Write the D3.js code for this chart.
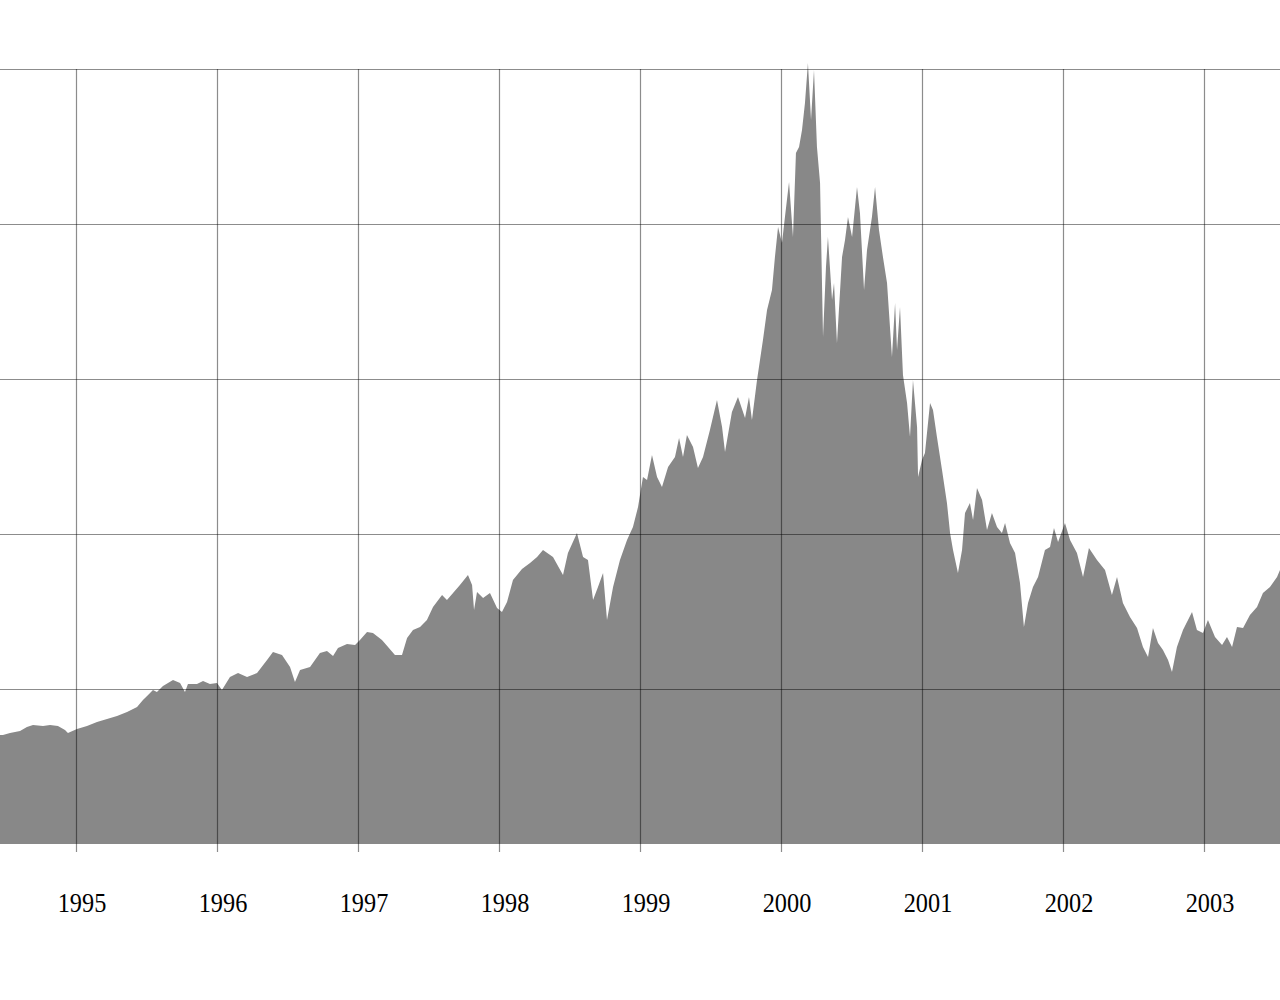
<!DOCTYPE html>
<html>
<head>
<meta charset="utf-8">
<script src="https://cdn.jsdelivr.net/npm/d3@7"></script>
<style>
  html, body { margin: 0; padding: 0; background: #ffffff; }
  svg { display: block; }
</style>
</head>
<body>
<svg id="chart" width="1280" height="1000"></svg>
<script>
const dates = [
  1994.461, 1994.482, 1994.532, 1994.603, 1994.652, 1994.695, 1994.766, 1994.816, 1994.872, 1994.922,
  1994.943, 1995.007, 1995.078, 1995.149, 1995.220, 1995.291, 1995.362, 1995.433, 1995.475, 1995.511,
  1995.546, 1995.574, 1995.617, 1995.688, 1995.738, 1995.773, 1995.794, 1995.858, 1995.901, 1995.950,
  1996.000, 1996.035, 1996.092, 1996.149, 1996.213, 1996.284, 1996.355, 1996.397, 1996.461, 1996.518,
  1996.553, 1996.589, 1996.660, 1996.695, 1996.730, 1996.780, 1996.823, 1996.858, 1996.922, 1996.979,
  1997.014, 1997.064, 1997.106, 1997.170, 1997.213, 1997.262, 1997.312, 1997.348, 1997.390, 1997.440,
  1997.489, 1997.532, 1997.596, 1997.631, 1997.674, 1997.723, 1997.780, 1997.809, 1997.823, 1997.844,
  1997.887, 1997.936, 1997.986, 1998.021, 1998.057, 1998.099, 1998.163, 1998.220, 1998.270, 1998.312,
  1998.383, 1998.454, 1998.489, 1998.553, 1998.596, 1998.631, 1998.667, 1998.702, 1998.738, 1998.766,
  1998.809, 1998.858, 1998.908, 1998.950, 1998.986, 1999.021, 1999.050, 1999.085, 1999.121, 1999.156,
  1999.199, 1999.248, 1999.277, 1999.305, 1999.333, 1999.376, 1999.411, 1999.447, 1999.496, 1999.546,
  1999.582, 1999.603, 1999.652, 1999.695, 1999.745, 1999.773, 1999.794, 1999.830, 1999.872, 1999.901,
  1999.936, 1999.957, 1999.979, 2000.007, 2000.028, 2000.057, 2000.085, 2000.106, 2000.128, 2000.149,
  2000.170, 2000.191, 2000.213, 2000.234, 2000.255, 2000.277, 2000.298, 2000.319, 2000.333, 2000.362,
  2000.376, 2000.397, 2000.433, 2000.454, 2000.475, 2000.504, 2000.539, 2000.560, 2000.589, 2000.610,
  2000.645, 2000.667, 2000.695, 2000.723, 2000.752, 2000.787, 2000.809, 2000.823, 2000.844, 2000.865,
  2000.894, 2000.915, 2000.936, 2000.965, 2000.972, 2001.000, 2001.021, 2001.057, 2001.078, 2001.106,
  2001.142, 2001.177, 2001.199, 2001.220, 2001.255, 2001.284, 2001.305, 2001.340, 2001.362, 2001.390,
  2001.426, 2001.461, 2001.496, 2001.532, 2001.567, 2001.589, 2001.624, 2001.660, 2001.695, 2001.723,
  2001.752, 2001.787, 2001.823, 2001.872, 2001.908, 2001.936, 2001.965, 2002.014, 2002.050, 2002.099,
  2002.142, 2002.184, 2002.241, 2002.298, 2002.347, 2002.383, 2002.425, 2002.475, 2002.525, 2002.567,
  2002.603, 2002.638, 2002.674, 2002.709, 2002.745, 2002.773, 2002.808, 2002.851, 2002.915, 2002.950,
  2002.993, 2003.028, 2003.078, 2003.128, 2003.163, 2003.199, 2003.234, 2003.277, 2003.326, 2003.376,
  2003.418, 2003.468, 2003.518, 2003.539
];

// Index values (closing level)
const values = [
  703, 703, 716, 729, 755, 768, 761, 768, 761, 735,
  716, 742, 761, 787, 806, 826, 852, 884, 929, 961,
  994, 981, 1019, 1058, 1039, 981, 1032, 1032, 1052, 1032,
  1039, 994, 1077, 1103, 1077, 1103, 1187, 1239, 1219, 1142,
  1045, 1123, 1142, 1187, 1232, 1245, 1213, 1265, 1290, 1284,
  1316, 1368, 1361, 1316, 1271, 1219, 1219, 1329, 1381, 1400,
  1445, 1529, 1606, 1574, 1619, 1671, 1735, 1671, 1510, 1626,
  1587, 1619, 1523, 1497, 1561, 1703, 1774, 1813, 1852, 1897,
  1852, 1735, 1877, 2006, 1852, 1832, 1574, 1658, 1748, 1445,
  1658, 1832, 1961, 2045, 2174, 2368, 2348, 2510, 2368, 2303,
  2432, 2497, 2619, 2497, 2639, 2561, 2426, 2497, 2671, 2865,
  2690, 2529, 2787, 2884, 2748, 2884, 2735, 2994, 3252, 3445,
  3574, 3787, 3981, 3877, 4045, 4271, 3916, 4458, 4497, 4606,
  4781, 5039, 4671, 4994, 4497, 4265, 3271, 3723, 3916, 3510,
  3619, 3232, 3787, 3897, 4045, 3916, 4239, 4071, 3574, 3832,
  4045, 4239, 3961, 3787, 3619, 3142, 3490, 3187, 3465, 3026,
  2845, 2626, 2994, 2690, 2368, 2477, 2523, 2845, 2800, 2626,
  2413, 2200, 2006, 1897, 1748, 1897, 2135, 2200, 2090, 2297,
  2219, 2026, 2135, 2045, 2006, 2071, 1942, 1877, 1684, 1400,
  1555, 1658, 1723, 1897, 1916, 2039, 1948, 2071, 1961, 1877,
  1723, 1910, 1832, 1768, 1606, 1723, 1555, 1465, 1394, 1271,
  1206, 1394, 1297, 1252, 1187, 1110, 1271, 1381, 1497, 1381,
  1361, 1445, 1335, 1284, 1335, 1271, 1400, 1394, 1477, 1529,
  1619, 1658, 1723, 1768
];

const yearTicks = [1995, 1996, 1997, 1998, 1999, 2000, 2001, 2002, 2003];
const valueTicks = [1000, 2000, 3000, 4000, 5000];

const data = dates.map((d, i) => ({ t: d, v: values[i] }));

const svg = d3.select("#chart");
const W = 1280;

const x = d3.scaleLinear()
  .domain([1994.461, 2003.539])
  .range([0, W]);

const y = d3.scaleLinear()
  .domain([0, 5000])
  .range([844, 69]);

// Area
const area = d3.area()
  .x(d => x(d.t))
  .y0(y(0))
  .y1(d => y(d.v));

svg.append("path")
  .datum(data)
  .attr("d", area)
  .attr("fill", "#888888");

// Horizontal grid lines
svg.append("g")
  .selectAll("line")
  .data(valueTicks)
  .join("line")
  .attr("x1", 0)
  .attr("x2", W)
  .attr("y1", d => Math.round(y(d)) + 0.5)
  .attr("y2", d => Math.round(y(d)) + 0.5)
  .attr("stroke", "#000")
  .attr("stroke-opacity", 0.45)
  .attr("stroke-width", 1.2);

// Vertical grid lines (extending below baseline as ticks)
svg.append("g")
  .selectAll("line")
  .data(yearTicks)
  .join("line")
  .attr("x1", d => Math.round(x(d)) + 0.5)
  .attr("x2", d => Math.round(x(d)) + 0.5)
  .attr("y1", y(5000))
  .attr("y2", y(0) + 8)
  .attr("stroke", "#000")
  .attr("stroke-opacity", 0.45)
  .attr("stroke-width", 1.2);

// Year labels
svg.append("g")
  .selectAll("text")
  .data(yearTicks)
  .join("text")
  .attr("transform", d => `translate(${x(d) + 6},912) scale(0.9,1)`)
  .attr("text-anchor", "middle")
  .attr("font-family", "'Liberation Serif', 'DejaVu Serif', serif")
  .attr("font-size", 27)
  .attr("fill", "#000")
  .text(d => d3.format("d")(d));
</script>
</body>
</html>
